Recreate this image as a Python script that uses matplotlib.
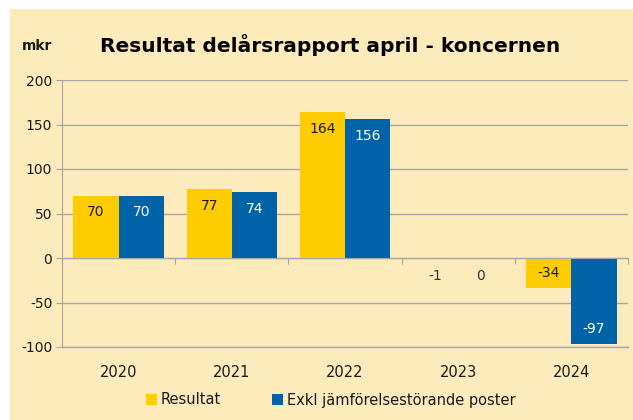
import numpy as np
import matplotlib
matplotlib.use('Agg')
import matplotlib.pyplot as plt
from matplotlib.patches import Rectangle

years = ['2020', '2021', '2022', '2023', '2024']
resultat = [70, 77, 164, -1, -34]
exkl = [70, 74, 156, 0, -97]
series_names = ['Resultat', 'Exkl jämförelsestörande poster']

bg = '#FDEBBC'
yellow = '#FFCC00'
blue = '#0063A8'
grey = '#A6A6A6'

plt.rcParams['font.family'] = ['DejaVu Sans']
plt.rcParams['axes.unicode_minus'] = False

fig = plt.figure(figsize=[6.33, 4.2], dpi=100, facecolor='white')
fig.patches.append(Rectangle((10/633, 0), 1, 1 - 9/420, transform=fig.transFigure,
                             facecolor=bg, edgecolor='none', zorder=-10))

ax = fig.add_axes([62/633, 1 - 347/420, (628 - 62)/633, (347 - 80)/420])
ax.set_facecolor(bg)
ax.patch.set_alpha(0)

x = np.arange(len(years))
w = 0.4
b1 = ax.bar(x - w/2, resultat, w, color=yellow, label=series_names[0], zorder=3)
b2 = ax.bar(x + w/2, exkl, w, color=blue, label=series_names[1], zorder=3)

ymin, ymax = -100, 200
ax.set_ylim(ymin, ymax)
ax.set_xlim(-0.5, len(years) - 0.5)
ax.set_yticks(np.arange(ymin, ymax + 1, 50))
ax.yaxis.grid(True, color=grey, lw=1, zorder=0)
ax.axhline(ymin, color=grey, lw=1, clip_on=False, zorder=0)
ax.tick_params(axis='y', direction='out', length=4, color=grey, labelsize=10,
               labelcolor='#1a1a1a', pad=3)

for s in ['top', 'right']:
    ax.spines[s].set_visible(False)
ax.spines['left'].set_color(grey)
ax.spines['bottom'].set_color(grey)
ax.spines['bottom'].set_position(('data', 0))
ax.spines['bottom'].set_zorder(4)

ax.set_xticks(np.arange(len(years) + 1) - 0.5)
ax.set_xticklabels([])
ax.tick_params(axis='x', direction='out', length=4, color=grey)

sec = ax.secondary_xaxis('bottom')
sec.set_xticks(x, years)
sec.tick_params(length=0, pad=13, labelsize=10.5, labelcolor='#1a1a1a')
sec.spines['bottom'].set_visible(False)

def label(bars, vals, txtcol):
    for r, v in zip(bars, vals):
        cx = r.get_x() + r.get_width()/2
        if abs(v) < 10:
            ax.annotate(str(v), (cx, 0), xytext=(0, -13), textcoords='offset points',
                        ha='center', va='center', fontsize=10, color='#333333', zorder=5)
        elif v > 0:
            ax.annotate(str(v), (cx, v), xytext=(0, -12), textcoords='offset points',
                        ha='center', va='center', fontsize=10, color=txtcol, zorder=5)
        else:
            ax.annotate(str(v), (cx, v), xytext=(0, 11), textcoords='offset points',
                        ha='center', va='center', fontsize=10, color=txtcol, zorder=5)

label(b1, resultat, '#1a1a1a')
label(b2, exkl, 'white')

fig.text(330/633, 1 - 45/420, 'Resultat delårsrapport april - koncernen',
         ha='center', va='center', fontsize=14.5, fontweight='bold', color='black')
fig.text(37/633, 1 - 46/420, 'mkr', ha='center', va='center', fontsize=10,
         fontweight='bold', color='#1a1a1a')

leg = fig.legend(handles=[b1, b2], labels=series_names, loc='center',
                 bbox_to_anchor=(331/633, 1 - 400/420), ncol=2, frameon=False,
                 fontsize=10.5, handlelength=0.7, handleheight=0.7,
                 handletextpad=0.3, columnspacing=3.5)
for t in leg.get_texts():
    t.set_color('#1a1a1a')

fig.savefig('out.png', dpi=100, facecolor=fig.get_facecolor())
